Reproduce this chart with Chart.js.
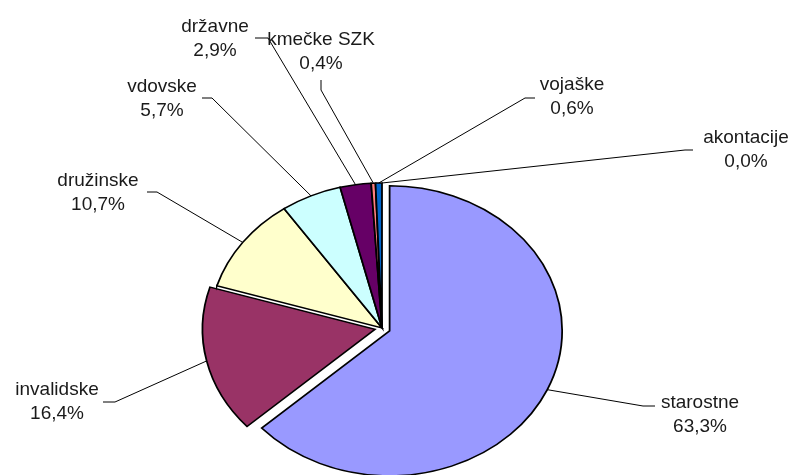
<!DOCTYPE html>
<html>
<head>
<meta charset="utf-8">
<script src="https://cdn.jsdelivr.net/npm/chart.js@4"></script>
<style>
  body { margin: 0; background: #fff; }
  #wrap { width: 795px; height: 475px; position: relative; }
</style>
</head>
<body>
<div id="wrap"><canvas id="pension-chart"></canvas></div>
<script>
const categories = ["starostne", "invalidske", "družinske", "vdovske", "državne", "kmečke SZK", "vojaške", "akontacije"];
const shares = [63.3, 16.4, 10.7, 5.7, 2.9, 0.4, 0.6, 0.0];
const sliceColors = ["#9999FF", "#993366", "#FFFFCC", "#CCFFFF", "#660066", "#FF8080", "#0066CC", "#CCCCFF"];
const explode = [7, 6, 0, 0, 0, 0, 0, 0];

// label text: centre x, baseline of first line, then leader knee and stub end
const labelLayout = [
  { x: 700, y: 408, knee: [643, 406], end: [655, 406] },
  { x: 57, y: 395, knee: [115, 402], end: [103, 402] },
  { x: 98, y: 186, knee: [157, 192], end: [147, 192] },
  { x: 162, y: 92, knee: [212, 98], end: [202, 98] },
  { x: 215, y: 32, knee: [268, 38], end: [255, 38] },
  { x: 321, y: 45, knee: [321, 90], end: [321, 80] },
  { x: 572, y: 90, knee: [525, 98], end: [535, 98] },
  { x: 746, y: 143, knee: [685, 150], end: [693, 150] },
];

const stretchX = 1.19;

function formatShare(v) {
  return v.toFixed(1).replace(".", ",") + "%";
}

// the pie is drawn slightly wider than tall, and two slices are pulled out
const ellipsePlugin = {
  id: "ellipse",
  beforeDatasetDraw(chart, args) {
    const ctx = chart.ctx;
    const arcs = args.meta.data;
    arcs.forEach((arc, i) => {
      const mid = (arc.startAngle + arc.endAngle) / 2;
      const off = explode[i] || 0;
      ctx.save();
      ctx.translate(arc.x, arc.y);
      ctx.scale(stretchX, 1);
      ctx.translate(-arc.x + Math.cos(mid) * off, -arc.y + Math.sin(mid) * off);
      arc.draw(ctx);
      ctx.restore();
    });
    return false;
  },
};

const labelPlugin = {
  id: "pieLabels",
  afterDraw(chart) {
    const ctx = chart.ctx;
    const arcs = chart.getDatasetMeta(0).data;
    ctx.save();
    ctx.strokeStyle = "#000";
    ctx.lineWidth = 1;
    ctx.font = "19px 'Liberation Sans', Arial, sans-serif";
    ctx.fillStyle = "#1a1a1a";
    ctx.textAlign = "center";
    ctx.textBaseline = "alphabetic";
    arcs.forEach((arc, i) => {
      const p = arc.getProps(["x", "y", "startAngle", "endAngle", "outerRadius"], true);
      const mid = (p.startAngle + p.endAngle) / 2;
      const r = p.outerRadius + (explode[i] || 0);
      const ax = p.x + Math.cos(mid) * r * stretchX;
      const ay = p.y + Math.sin(mid) * r;
      const lay = labelLayout[i];
      ctx.beginPath();
      ctx.moveTo(ax, ay);
      ctx.lineTo(lay.knee[0], lay.knee[1]);
      ctx.lineTo(lay.end[0], lay.end[1]);
      ctx.stroke();
      ctx.fillText(categories[i], lay.x, lay.y);
      ctx.fillText(formatShare(shares[i]), lay.x, lay.y + 24);
    });
    ctx.restore();
  },
};

const ctx = document.getElementById("pension-chart").getContext("2d");
new Chart(ctx, {
  type: "pie",
  data: {
    labels: categories,
    datasets: [
      {
        data: shares,
        backgroundColor: sliceColors,
        borderColor: "#000",
        borderWidth: 1.5,
        borderJoinStyle: "miter",
        clip: false,
      },
    ],
  },
  options: {
    responsive: true,
    maintainAspectRatio: false,
    animation: false,
    radius: 145,
    layout: { padding: { left: 0, right: 31, top: 181, bottom: 0 } },
    plugins: {
      legend: { display: false },
      tooltip: { enabled: false },
    },
    events: [],
  },
  plugins: [ellipsePlugin, labelPlugin],
});
</script>
</body>
</html>
